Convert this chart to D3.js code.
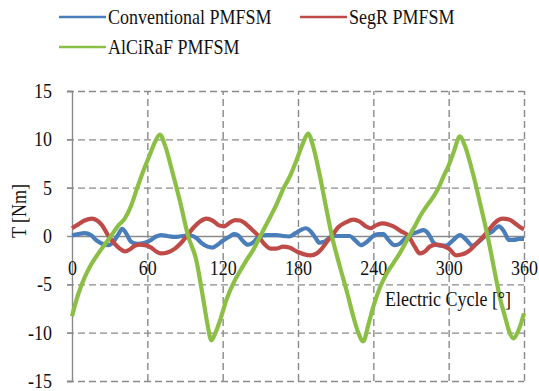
<!DOCTYPE html>
<html>
<head>
<meta charset="utf-8">
<script src="https://cdn.jsdelivr.net/npm/d3@7"></script>
<style>
  body { margin: 0; background: #fff; }
</style>
</head>
<body>
<div id="chart"></div>
<script>
// series names and colours
var seriesNames = ["Conventional PMFSM", "SegR PMFSM", "AlCiRaF PMFSM"];
var seriesColors = ["#4a7ebb", "#be4b48", "#8cbf45"];

// axis ticks
var xTicks = [0, 60, 120, 180, 240, 300, 360];
var yTicks = [-15, -10, -5, 0, 5, 10, 15];

// Conventional PMFSM (blue)
var convAngle = [0, 5, 10, 15, 19, 24, 29, 33, 37, 40, 43, 47, 52, 58, 63, 67, 71, 76, 82, 88, 94, 99, 103, 108, 112, 116, 120, 125, 129, 132, 136, 140, 144, 149, 155, 163, 168, 173, 178, 182, 186, 190, 194, 197, 201, 205, 208, 214, 221, 226, 230, 235, 240, 244, 248, 252, 257, 261, 265, 269, 275, 280, 284, 288, 293, 298, 303, 309, 314, 319, 323, 329, 335, 340, 344, 348, 352, 356, 360];
var convT = [0.05, 0.2, 0.3, 0.1, -0.4, -0.8, -0.95, -0.6, 0.2, 0.75, 0.3, -0.6, -0.8, -0.7, -0.4, -0.05, 0.1, 0.0, -0.1, 0.0, 0.05, -0.2, -0.7, -1.1, -1.2, -0.9, -0.5, -0.1, 0.2, 0.1, -0.5, -0.9, -0.7, -0.05, 0.1, 0.1, 0.0, -0.05, 0.3, 0.6, 0.8, 0.5, -0.2, -0.7, -0.6, -0.2, 0.0, 0.0, 0.0, -0.5, -0.95, -0.6, 0.0, 0.2, 0.2, -0.4, -0.95, -0.8, -0.3, 0.1, 0.4, 0.6, 0.2, -0.7, -1.0, -1.0, -0.5, 0.1, -0.4, -1.0, -0.7, 0.0, 0.5, 1.0, 0.5, -0.4, -0.4, -0.3, -0.3];

// SegR PMFSM (red)
var segAngle = [0, 5, 10, 16, 20, 24, 29, 34, 38, 42, 46, 50, 54, 58, 63, 67, 71, 76, 82, 87, 92, 97, 102, 107, 112, 117, 121, 126, 130, 134, 138, 143, 148.5, 153, 158, 163, 168, 173, 179, 185, 190, 195, 199, 203, 207, 212, 218, 224, 229, 234, 238, 242, 247, 252, 256, 262, 268, 273, 277, 281, 285, 290, 295, 300, 306, 311, 317, 322, 328, 333, 338, 343, 348, 353, 357, 360];
var segT = [0.8, 1.2, 1.6, 1.8, 1.6, 1.1, 0.0, -0.8, -1.3, -1.6, -1.4, -1.0, -0.9, -0.95, -1.2, -1.6, -1.8, -1.7, -1.3, -0.7, 0.1, 0.9, 1.5, 1.8, 1.6, 1.1, 1.0, 1.4, 1.65, 1.6, 1.3, 0.7, 0.0, -0.8, -1.3, -1.3, -1.1, -1.2, -1.6, -1.9, -2.0, -1.8, -1.3, -0.6, 0.0, 0.9, 1.4, 1.7, 1.5, 1.0, 0.8, 1.1, 1.3, 1.2, 1.0, 0.5, 0.0, -1.1, -1.8, -1.6, -1.1, -0.9, -1.0, -1.3, -2.0, -1.9, -1.45, -0.8, 0.0, 0.8, 1.5, 1.8, 1.7, 1.3, 0.9, 0.7];

// AlCiRaF PMFSM (green)
var alcAngle = [0, 5, 10, 15, 21, 26, 31, 37, 42, 47, 52, 57, 62, 66, 70, 74, 80, 86, 92.5, 99, 105, 108, 111, 114, 118, 123, 128.5, 134, 139, 144, 150, 154, 158, 163, 168, 174, 179, 184, 188, 192, 197, 202, 207, 213, 219, 224, 228, 232, 236, 240, 245, 250.5, 256, 261, 268.5, 273, 277, 282, 288, 292, 296, 300, 304, 309, 313, 317, 321, 325, 331, 335, 338, 341, 345, 348, 351.5, 354, 357, 360];
var alcT = [-8.3, -6.0, -4.3, -3.0, -1.8, -0.9, 0.0, 1.1, 1.8, 3.1, 5.0, 6.8, 8.4, 9.7, 10.5, 9.4, 6.6, 3.6, 0.0, -2.5, -6.9, -9.2, -10.8, -10.1, -8.7, -6.6, -4.9, -3.6, -2.5, -1.5, 0.0, 1.0, 2.0, 3.3, 4.8, 6.3, 7.9, 9.6, 10.6, 9.3, 6.5, 3.2, 0.0, -3.0, -5.8, -8.3, -10.0, -10.9, -9.2, -7.3, -5.4, -3.9, -2.8, -1.8, 0.0, 1.0, 2.0, 3.0, 4.1, 5.0, 6.2, 7.3, 8.7, 10.3, 9.3, 7.6, 5.6, 3.4, 0.0, -2.6, -4.6, -6.5, -8.4, -9.8, -10.6, -10.2, -9.3, -8.0];

var W = 539, H = 391;
var margin = { top: 91, right: 15, bottom: 10, left: 72 };
var plotW = 524 - margin.left;
var plotH = 381 - margin.top;
var serif = "Liberation Serif";
var stretch = 1.12; // text in the original is a little taller than wide

var svg = d3.select("#chart")
  .append("svg")
  .attr("width", W)
  .attr("height", H)
  .attr("font-family", serif);

var g = svg.append("g")
  .attr("transform", "translate(" + margin.left + "," + margin.top + ")");

var x = d3.scaleLinear().domain([0, 360]).range([0, plotW]);
var y = d3.scaleLinear().domain([-15, 15]).range([plotH, 0]);

var gridColor = "#8a8a8a";
var fmt = function(d) { return String(d); }; // plain hyphen minus like the original

// horizontal dashed grid (incl. top and bottom borders)
g.append("g")
  .attr("class", "grid y")
  .call(d3.axisLeft(y).tickValues(yTicks.filter(function(d) { return d !== 0; }))
    .tickSize(-plotW - 5).tickFormat(""))
  .attr("transform", "translate(-5,0)")
  .call(function(s) {
    s.select(".domain").remove();
    s.selectAll("line")
      .attr("stroke", gridColor)
      .attr("stroke-width", 1.4)
      .attr("stroke-dasharray", "7,4");
  });

// vertical dashed grid
g.append("g")
  .attr("class", "grid x")
  .attr("transform", "translate(0," + plotH + ")")
  .call(d3.axisBottom(x).tickValues(xTicks.slice(1)).tickSize(-plotH).tickFormat(""))
  .call(function(s) {
    s.select(".domain").remove();
    s.selectAll("line")
      .attr("stroke", gridColor)
      .attr("stroke-width", 1.4)
      .attr("stroke-dasharray", "7,4");
  });

// y axis: solid line, labels
g.append("g")
  .attr("class", "axis y")
  .call(d3.axisLeft(y).tickValues(yTicks).tickFormat(fmt).tickSize(5).tickPadding(15))
  .attr("font-family", serif)
  .attr("font-size", 18)
  .call(function(s) {
    s.select(".domain").attr("stroke", gridColor).attr("stroke-width", 1.4);
    s.selectAll("line").attr("stroke", gridColor).attr("stroke-width", 1.4);
    s.selectAll("text")
      .attr("fill", "#111")
      .attr("transform", "scale(1," + stretch + ")");
  });

// x axis along T = 0
g.append("g")
  .attr("class", "axis x")
  .attr("transform", "translate(0," + y(0) + ")")
  .call(d3.axisBottom(x).tickValues(xTicks).tickFormat(fmt).tickSize(0).tickPadding(26))
  .attr("font-family", serif)
  .attr("font-size", 18)
  .call(function(s) {
    s.select(".domain").attr("stroke", gridColor).attr("stroke-width", 1.4);
    s.selectAll("text")
      .attr("fill", "#111")
      .attr("y", 25 / stretch)
      .attr("transform", "scale(1," + stretch + ")");
  });

// series lines
var series = [
  { name: seriesNames[0], color: seriesColors[0], a: convAngle, t: convT },
  { name: seriesNames[1], color: seriesColors[1], a: segAngle, t: segT },
  { name: seriesNames[2], color: seriesColors[2], a: alcAngle, t: alcT }
];

var line = d3.line()
  .curve(d3.curveMonotoneX)
  .x(function(d) { return x(d[0]); })
  .y(function(d) { return y(d[1]); });

g.selectAll(".series")
  .data(series)
  .enter()
  .append("path")
  .attr("class", "series")
  .attr("fill", "none")
  .attr("stroke", function(d) { return d.color; })
  .attr("stroke-width", 4.2)
  .attr("stroke-linejoin", "round")
  .attr("d", function(d) {
    return line(d.a.map(function(v, i) { return [v, d.t[i]]; }));
  });

// axis titles
svg.append("text")
  .attr("transform", "translate(448,306) scale(1," + stretch + ")")
  .attr("text-anchor", "middle")
  .attr("font-family", serif)
  .attr("font-size", 18)
  .attr("fill", "#111")
  .text("Electric Cycle [°]");

svg.append("text")
  .attr("transform", "translate(26,211) rotate(-90) scale(1," + stretch + ")")
  .attr("text-anchor", "middle")
  .attr("font-family", serif)
  .attr("font-size", 18)
  .attr("fill", "#111")
  .text("T [Nm]");

// legend
var legendPos = [[59, 17], [300, 17], [59, 47]];
var legend = svg.selectAll(".legend")
  .data(series)
  .enter()
  .append("g")
  .attr("class", "legend")
  .attr("transform", function(d, i) { return "translate(" + legendPos[i][0] + "," + legendPos[i][1] + ")"; });

legend.append("line")
  .attr("x1", 0).attr("x2", 47)
  .attr("y1", 0).attr("y2", 0)
  .attr("stroke", function(d) { return d.color; })
  .attr("stroke-width", 2.5);

legend.append("text")
  .attr("transform", "translate(49,0) scale(1," + stretch + ")")
  .attr("dy", "0.35em")
  .attr("font-family", serif)
  .attr("font-size", 18)
  .attr("fill", "#111")
  .text(function(d) { return d.name; });
</script>
</body>
</html>
